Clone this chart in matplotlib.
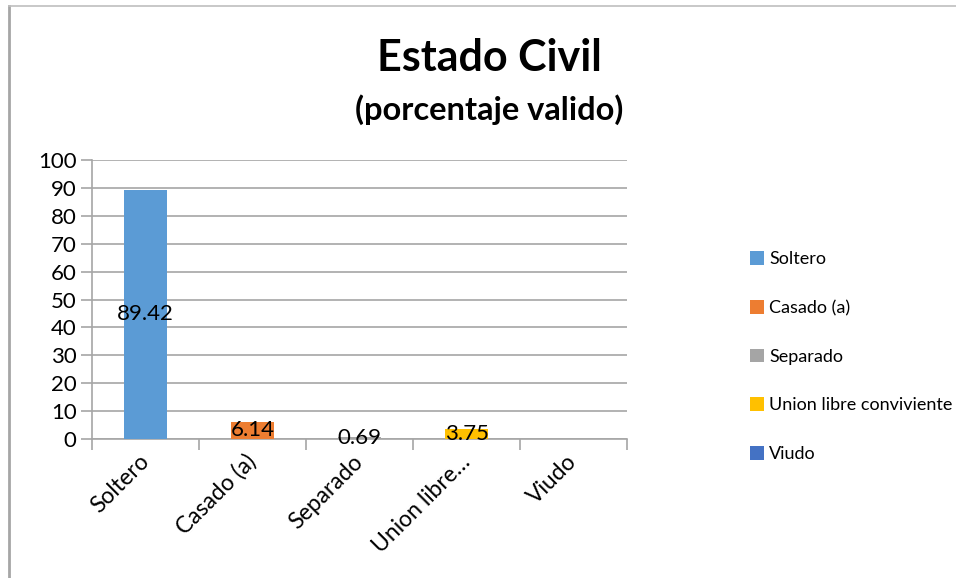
import matplotlib.pyplot as plt
import matplotlib.transforms as mtransforms
from matplotlib.lines import Line2D
from matplotlib.patches import Patch

plt.rcParams['font.family'] = ['Lato', 'DejaVu Sans']

categorias = ['Soltero', 'Casado (a)', 'Separado', 'Union libre conviviente', 'Viudo']
etiquetas = ['Soltero', 'Casado (a)', 'Separado', 'Union libre…', 'Viudo']
valores = [89.42, 6.14, 0.69, 3.75, 0]
colores = ['#5B9BD5', '#ED7D31', '#A5A5A5', '#FFC000', '#4472C4']

fig = plt.figure(figsize=(9.56, 5.78), dpi=100)
ax = fig.add_axes([0.0962, 0.2405, 0.5598, 0.4825])

x = range(len(categorias))
barras = ax.bar(x, valores, width=0.4, color=colores, zorder=3)
for b, v in zip(barras, valores):
    if v > 0:
        ax.text(b.get_x() + b.get_width() / 2, v / 2, f'{v:.2f}',
                ha='center', va='center', fontsize=16, zorder=4)

ax.set_xlim(-0.5, len(categorias) - 0.5)
ax.set_ylim(0, 100)
ax.set_yticks(range(0, 101, 10))
ax.set_yticklabels([str(t) for t in range(0, 101, 10)], fontsize=16)
ax.set_xticks(list(x))
ax.set_xticklabels(etiquetas, rotation=45, ha='right', va='center',
                   rotation_mode='anchor', fontsize=16.5)
desplaza = mtransforms.ScaledTranslation(-8 / 100, -4 / 100, fig.dpi_scale_trans)
for lab in ax.get_xticklabels():
    lab.set_transform(lab.get_transform() + desplaza)
ax.tick_params(axis='x', length=0, pad=14)
ax.set_xticks([i - 0.5 for i in range(len(categorias) + 1)], minor=True)
ax.tick_params(axis='x', which='minor', length=8, color='#A6A6A6', width=1.2)
ax.tick_params(axis='y', length=8, color='#A6A6A6', width=1.2, pad=3)
ax.grid(axis='y', color='#A6A6A6', linewidth=1.2, zorder=0)
for s in ['top', 'right']:
    ax.spines[s].set_visible(False)
ax.spines['left'].set_color('#A6A6A6')
ax.spines['bottom'].set_color('#A6A6A6')
ax.spines['left'].set_linewidth(1.2)
ax.spines['bottom'].set_linewidth(1.2)

fig.text(0.512, 0.9, 'Estado Civil', ha='center', va='center', fontsize=31, fontweight='bold')
fig.text(0.512, 0.81, '(porcentaje valido)', ha='center', va='center', fontsize=23.5, fontweight='bold')

handles = [Patch(facecolor=c, edgecolor='none') for c in colores]
fig.legend(handles, categorias, loc='center left', bbox_to_anchor=(0.784, 0.383),
           frameon=False, fontsize=13, handlelength=0.8, handleheight=0.8,
           handletextpad=0.3, labelspacing=1.8, borderpad=0, borderaxespad=0)

# borde del grafico
fig.add_artist(Line2D([0.009, 0.009], [0, 0.99], color='#A6A6A6', linewidth=2))
fig.add_artist(Line2D([0.009, 1], [0.99, 0.99], color='#BFBFBF', linewidth=1.2))

fig.savefig('out.png', dpi=100)
